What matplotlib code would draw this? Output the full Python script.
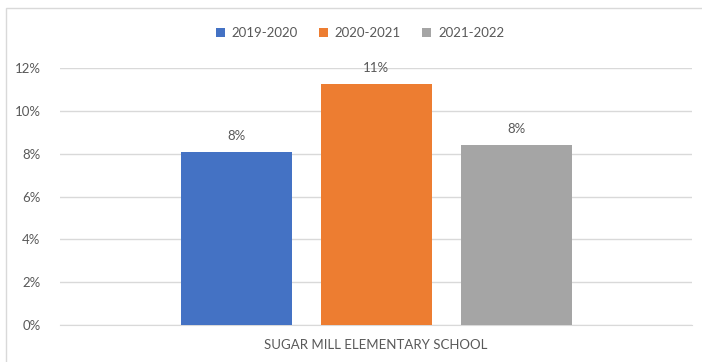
import matplotlib.pyplot as plt
from matplotlib.patches import Rectangle
from matplotlib.ticker import FuncFormatter

plt.rcParams['font.family'] = ['Lato', 'DejaVu Sans']

# data
school = "SUGAR MILL ELEMENTARY SCHOOL"
years = ["2019-2020", "2020-2021", "2021-2022"]
rates = [8.1, 11.25, 8.42]
labels = ["8%", "11%", "8%"]
colors = ["#4472C4", "#ED7D31", "#A5A5A5"]
yticks = [0, 2, 4, 6, 8, 10, 12]

text_color = "#595959"
grid_color = "#D9D9D9"

fig = plt.figure(figsize=(7.02, 3.62), dpi=100)
ax = fig.add_axes([60 / 702, 1 - 325 / 362, 632 / 702, 257 / 362])

# chart border
fig.patches.append(Rectangle((6 / 702, -0.05), 1.1, 1 - 8 / 362 + 0.05,
                             transform=fig.transFigure, fill=False,
                             edgecolor="#D9D9D9", linewidth=1))

width = 111 / 632
step = 140 / 632
for i, (yr, v, lab, c) in enumerate(zip(years, rates, labels, colors)):
    x = (i - 1) * step
    ax.bar(x, v, width=width, color=c, label=yr, zorder=3)
    ax.text(x, v + 0.45, lab, ha="center", va="bottom",
            fontsize=9.5, color=text_color)

ax.set_xlim(-0.5, 0.5)
ax.set_ylim(0, 12)
ax.set_yticks(yticks)
ax.yaxis.set_major_formatter(FuncFormatter(lambda v, p: f"{v:.0f}%"))
ax.grid(axis="y", color=grid_color, linewidth=1, zorder=0)
ax.set_xticks([0])
ax.set_xticklabels([school])
ax.tick_params(axis="both", length=0, colors=text_color, labelsize=9.5)
ax.tick_params(axis="y", pad=14)
ax.tick_params(axis="x", pad=10)
for s in ["top", "right", "left"]:
    ax.spines[s].set_visible(False)
ax.spines["bottom"].set_color(grid_color)

fig.legend(loc="center", bbox_to_anchor=(360 / 702, 1 - 33 / 362), ncol=3,
           frameon=False, fontsize=9.5, handlelength=0.7, handleheight=0.7,
           handletextpad=0.5, columnspacing=1.6, labelcolor=text_color)

fig.savefig("out.png", dpi=100)
